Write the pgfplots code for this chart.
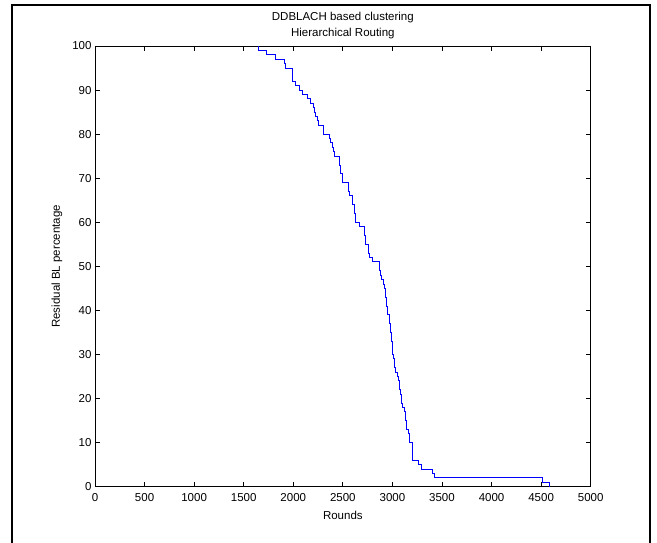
\documentclass[border=0pt]{standalone}
\usepackage{fontspec}
\setmainfont{Liberation Sans}
\usepackage{pgfplots}
\pgfplotsset{compat=1.18}
\begin{document}
\begin{tikzpicture}[x=1pt,y=1pt]
\useasboundingbox (0,0) rectangle (657,543);
\draw[line width=1.8pt] (12,-3) -- (12,538.3) -- (650,538.3) -- (650,-3);
\begin{axis}[
  at={(95pt,56.3pt)}, anchor=south west,
  scale only axis, width=495.7pt, height=440.7pt,
  xmin=0, xmax=5000, ymin=0, ymax=100,
  xtick={0,500,...,5000}, ytick={0,10,...,100},
  tick align=inside, major tick length=5pt,
  axis line style={line width=0.8pt},
  every tick/.style={black, line width=0.8pt},
  /pgf/number format/1000 sep={},
  /pgf/number format/assume math mode=true,
  tick label style={font=\fontsize{11.5}{14}\selectfont},
  xticklabel style={yshift=-3.5pt},
  title={DDBLACH based clustering\\Hierarchical Routing},
  title style={align=center, font=\fontsize{11.5}{16}\selectfont, at={(axis description cs:0.5,1)}, anchor=center, yshift=14.3pt},
  xlabel={Rounds},
  xlabel style={font=\fontsize{11.5}{14}\selectfont, at={(axis description cs:0.5,0)}, anchor=center, yshift=-28.3pt},
  ylabel={Residual BL percentage},
  ylabel style={font=\fontsize{11.5}{14}\selectfont, at={(axis description cs:0,0.5)}, anchor=center, yshift=38pt},
]
\addplot[const plot, color={rgb,255:red,0;green,0;blue,255}, line width=0.9pt] coordinates {
(1646,100) (1646,99) (1731,98) (1825,97) (1915,96) (1920,95) (1989,92) (2026,91)
(2060,90) (2094,89) (2144,88) (2177,87) (2201,86) (2215,85) (2228,84) (2240,83)
(2250,82) (2302,81) (2306,80) (2362,79) (2375,78) (2395,77) (2405,76) (2412,75)
(2470,73) (2480,71) (2493,69) (2553,67) (2563,66) (2598,64) (2614,62) (2625,60)
(2664,59) (2715,57) (2725,55) (2755,53) (2772,52) (2799,51) (2866,49) (2880,48)
(2893,47) (2906,46) (2920,45) (2933,43) (2940,41) (2954,39) (2967,37) (2981,35)
(2991,33) (3001,30) (3010,29) (3022,27) (3035,26) (3048,25) (3060,24) (3068,23)
(3075,22) (3085,21) (3095,19) (3105,18) (3118,17) (3132,15) (3142,13) (3158,12)
(3168,11) (3175,10) (3203,6) (3266,5) (3293,4) (3400,3) (3427,2) (4510,1) (4580,0)
};
\end{axis}
\end{tikzpicture}
\end{document}
